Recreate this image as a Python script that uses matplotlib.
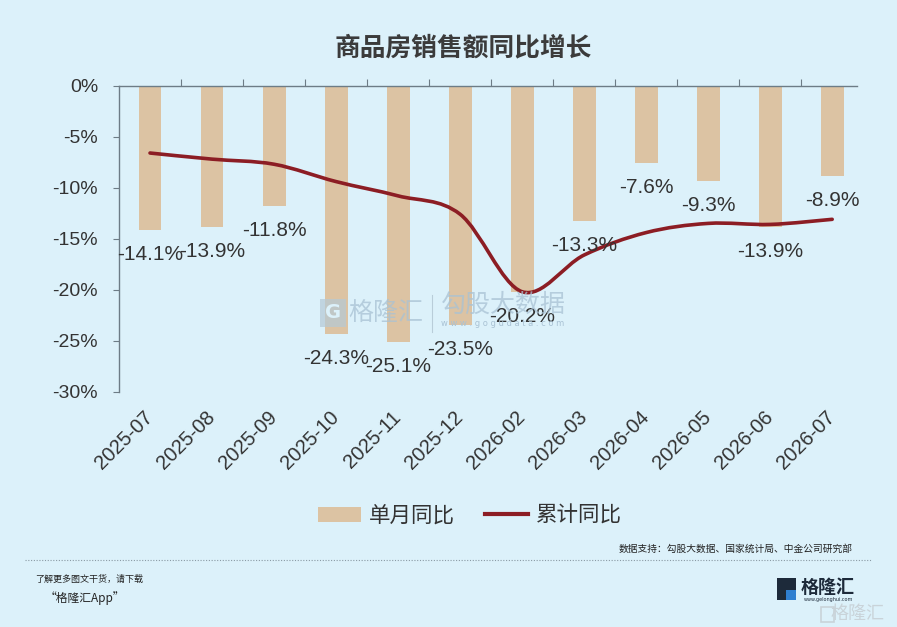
import numpy as np
import matplotlib
matplotlib.use("Agg")
import matplotlib.pyplot as plt
from matplotlib.path import Path
from matplotlib.patches import PathPatch, Rectangle
from matplotlib.lines import Line2D
from matplotlib.patches import Patch

# ---------------- data ----------------
months = ["2025-07", "2025-08", "2025-09", "2025-10", "2025-11", "2025-12",
          "2026-02", "2026-03", "2026-04", "2026-05", "2026-06", "2026-07"]
monthly_yoy = [-14.1, -13.9, -11.8, -24.3, -25.1, -23.5,
               -20.2, -13.3, -7.6, -9.3, -13.9, -8.9]
cumulative_yoy = [-6.6, -7.2, -7.7, -9.4, -10.8, -12.6,
                  -20.2, -16.6, -14.4, -13.5, -13.6, -13.1]
yticks = [0, -5, -10, -15, -20, -25, -30]
title = "商品房销售额同比增长"
legend_labels = ["单月同比", "累计同比"]
source_text = "数据支持：勾股大数据、国家统计局、中金公司研究部"

# ---------------- style ----------------
BG = "#dcf1fa"
BAR = "#dcc3a3"
LINE = "#8c1d24"
TXT = "#333333"
SPINE = "#6d7c86"
NUM_FONT = ["Liberation Sans", "Noto Sans CJK SC"]
CJK_FONT = ["Noto Sans CJK SC", "DejaVu Sans"]

fig = plt.figure(figsize=(8.97, 6.27), dpi=100, facecolor=BG)
W, H = 897, 627
left, right, top, bottom = 119, 857, 85.7, 391.7
ax = fig.add_axes([left / W, 1 - bottom / H, (right - left) / W, (bottom - top) / H])
ax.set_facecolor(BG)

x = np.arange(len(months))
ax.bar(x, monthly_yoy, width=0.37, color=BAR, zorder=2)

# smooth line via Catmull-Rom -> cubic Bezier path
pts = np.column_stack([x, cumulative_yoy]).astype(float)
ext = np.vstack([pts[0], pts, pts[-1]])
verts = [tuple(pts[0])]
codes = [Path.MOVETO]
for i in range(1, len(ext) - 2):
    p0, p1, p2, p3 = ext[i - 1], ext[i], ext[i + 1], ext[i + 2]
    c1 = p1 + (p2 - p0) / 6.0
    c2 = p2 - (p3 - p1) / 6.0
    verts += [tuple(c1), tuple(c2), tuple(p2)]
    codes += [Path.CURVE4, Path.CURVE4, Path.CURVE4]
ax.add_patch(PathPatch(Path(verts, codes), facecolor="none", edgecolor=LINE,
                       lw=2.6, zorder=3, capstyle="round", joinstyle="round"))

# data labels
for xi, v in zip(x, monthly_yoy):
    ax.annotate(f"{v:.1f}%", (xi, v), xytext=(0, -24.5), textcoords="offset pixels",
                ha="center", va="center", fontsize=15, color=TXT,
                family=NUM_FONT, zorder=4, annotation_clip=False)

ax.set_xlim(-0.5, 11.4)
ax.set_ylim(-30, 0)

# spines
for s in ["right", "bottom"]:
    ax.spines[s].set_visible(False)
for s in ["left", "top"]:
    ax.spines[s].set_color(SPINE)
    ax.spines[s].set_linewidth(1.0)

ax.set_yticks(yticks)
ax.set_yticklabels([f"{t}%" for t in yticks], family=NUM_FONT, fontsize=14, color=TXT)
ax.tick_params(axis="y", direction="out", length=4, width=0.8, color=SPINE, pad=11)

ax.set_xticks(x)
ax.set_xticklabels(months, rotation=45, ha="right", va="center",
                   rotation_mode="anchor", family=NUM_FONT, fontsize=14.5, color=TXT)
ax.tick_params(axis="x", which="major", length=0, pad=16, bottom=True, top=False)
ax.set_xticks(np.arange(0.5, 11.0, 1.0), minor=True)
ax.tick_params(axis="x", which="minor", top=True, bottom=False, direction="out",
               length=5, width=0.8, color=SPINE, labelbottom=False)

# title
fig.text(463 / W, 1 - 48 / H, title, ha="center", va="center", fontsize=18.5,
         fontweight="bold", color="#3b3b3b", family=CJK_FONT)

# watermark
fig.text(386 / W, 1 - 313 / H, "格隆汇", ha="center", va="center", fontsize=18,
         color="#a9c2d4", alpha=0.75, family=CJK_FONT)
fig.patches.append(Rectangle((320 / W, 1 - 327 / H), 26 / W, 28 / H,
                             transform=fig.transFigure, facecolor="#b5c9d6",
                             edgecolor="none", alpha=0.7))
fig.text(333 / W, 1 - 313 / H, "G", ha="center", va="center", fontsize=14,
         fontweight="bold", color=BG, family=["DejaVu Sans"])
fig.lines.append(Line2D([432 / W, 432 / W], [1 - 295 / H, 1 - 332 / H],
                        transform=fig.transFigure, color="#b9cdd9", lw=0.8))
fig.text(503 / W, 1 - 305 / H, "勾股大数据", ha="center", va="center", fontsize=18,
         color="#a9c2d4", alpha=0.75, family=CJK_FONT)
fig.text(503 / W, 1 - 324 / H, "w w w . g o g u d a t a . c o m", ha="center",
         va="center", fontsize=6, color="#a9c2d4", family=["DejaVu Sans"])

# legend
leg_handles = [Patch(facecolor=BAR, edgecolor="none"),
               Line2D([0], [0], color=LINE, lw=3)]
fig.legend(leg_handles, legend_labels, loc="center", bbox_to_anchor=(470 / W, 1 - 516 / H),
           ncol=2, frameon=False, prop={"family": CJK_FONT, "size": 15.5},
           handlelength=2.0, handleheight=0.7, columnspacing=1.4, handletextpad=0.35,
           labelcolor=TXT)

# footer
fig.text(853 / W, 1 - 549 / H, source_text, ha="right", va="center", fontsize=7,
         color="#222222", family=CJK_FONT)
fig.lines.append(Line2D([25 / W, 872 / W], [1 - 560 / H, 1 - 560 / H],
                        transform=fig.transFigure, color="#8a9aa4", lw=0.8,
                        linestyle=(0, (1, 1.5))))
fig.text(35 / W, 1 - 579 / H, "了解更多图文干货，请下载", ha="left", va="center",
         fontsize=6.5, style="italic", color="#222222", family=CJK_FONT)
fig.text(45 / W, 1 - 598 / H, "“格隆汇App”", ha="left", va="center",
         fontsize=8.5, style="italic", color="#222222", family=CJK_FONT)

# logo bottom-right
fig.patches.append(Rectangle((777 / W, 1 - 600 / H), 19 / W, 22 / H,
                             transform=fig.transFigure, facecolor="#1d2a3a",
                             edgecolor="none"))
fig.patches.append(Rectangle((786 / W, 1 - 600 / H), 10 / W, 10 / H,
                             transform=fig.transFigure, facecolor="#2f7fd0",
                             edgecolor="none"))
fig.text(828 / W, 1 - 587 / H, "格隆汇", ha="center", va="center", fontsize=13,
         fontweight="bold", color="#1d2a3a", family=CJK_FONT)
fig.text(828 / W, 1 - 600 / H, "www.gelonghui.com", ha="center", va="center",
         fontsize=3.5, color="#1d2a3a", family=["DejaVu Sans"])
fig.text(858 / W, 1 - 614 / H, "格隆汇", ha="center", va="center", fontsize=13,
         color="#c9d3d9", family=CJK_FONT)
fig.patches.append(Rectangle((821 / W, 1 - 622 / H), 13 / W, 15 / H,
                             transform=fig.transFigure, facecolor="none",
                             edgecolor="#c9d3d9", lw=1.2))

fig.savefig("out.png", dpi=100, facecolor=BG)
